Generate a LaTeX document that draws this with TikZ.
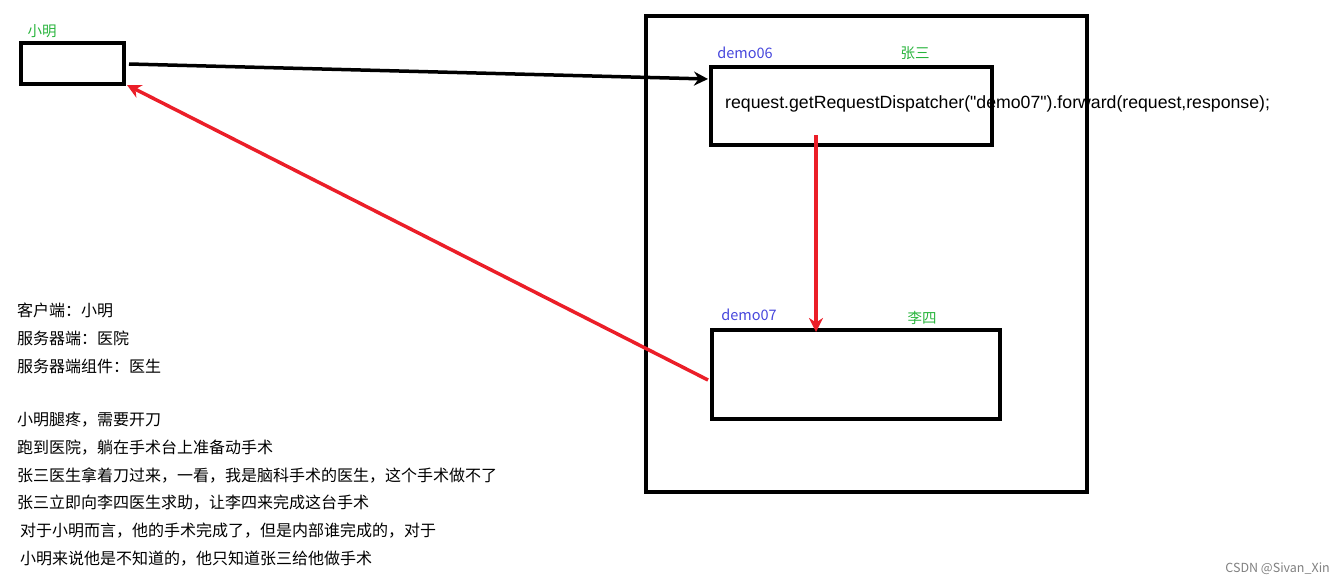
\documentclass[tikz,border=0pt]{standalone}
\usepackage{fontspec}
\setmainfont{Noto Sans CJK SC}
\newfontfamily\lat{Liberation Sans}
\usetikzlibrary{arrows.meta}
\definecolor{lblue}{RGB}{70,70,220}
\definecolor{lgreen}{RGB}{40,180,60}
\definecolor{lred}{RGB}{235,30,40}
\begin{document}
\begin{tikzpicture}[x=1pt,y=-1pt,
  bx/.style={draw=black,line width=3.5pt},
  blue/.style={text=lblue,font=\fontsize{14.5}{16}\selectfont},
  green/.style={text=lgreen,font=\fontsize{14.5}{16}\selectfont},
  txt/.style={anchor=west,font=\fontsize{16}{17}\selectfont,inner sep=0},
  arr/.style={line width=3.5pt,-{Stealth[length=14pt,width=14pt]}}]
\useasboundingbox (0,0) rectangle (1342,586);
\node[bx,minimum width=103pt,minimum height=41pt,inner sep=0] (xm) at (72.5,63.5) {};
\node[green] (xml) at (42,31) {小明};
\node[bx,minimum width=441pt,minimum height=476pt,inner sep=0] (big) at (866.5,254) {};
\node[bx,minimum width=281pt,minimum height=78pt,inner sep=0] (d6) at (851.5,106) {};
\node[blue] (d6l) at (745,53) {demo06};
\node[green] (zs) at (915,53) {张三};
\node[anchor=west,inner sep=0,font=\lat\fontsize{17.7}{20}\selectfont] (req) at (725,104) {request.getRequestDispatcher("demo07").forward(request,response);};
\node[bx,minimum width=288pt,minimum height=89pt,inner sep=0] (d7) at (856,374.5) {};
\node[blue] (d7l) at (749,315) {demo07};
\node[green] (ls) at (922,318) {李四};
\coordinate (a1s) at (129,64);
\coordinate (a1e) at (708,79);
\draw[arr,black] (a1s) -- (a1e);
\coordinate (a2s) at (816,135);
\coordinate (a2e) at (816,332);
\draw[arr,lred] (a2s) -- (a2e);
\coordinate (a3s) at (708,380);
\coordinate (a3e) at (127,85);
\draw[arr,lred] (a3s) -- (a3e);
\node[txt] (t1) at (17,310) {客户端：小明};
\node[txt] (t2) at (17,338) {服务器端：医院};
\node[txt] (t3) at (17,366) {服务器端组件：医生};
\node[txt] (t4) at (17,420) {小明腿疼，需要开刀};
\node[txt] (t5) at (17,448) {跑到医院，躺在手术台上准备动手术};
\node[txt] (t6) at (17,475) {张三医生拿着刀过来，一看，我是脑科手术的医生，这个手术做不了};
\node[txt] (t7) at (17,503) {张三立即向李四医生求助，让李四来完成这台手术};
\node[txt] (t8) at (20,531) {对于小明而言，他的手术完成了，但是内部谁完成的，对于};
\node[txt] (t9) at (20,559) {小明来说他是不知道的，他只知道张三给他做手术};
\node[anchor=east,inner sep=0,text=gray,font=\fontsize{12.5}{14}\selectfont] (wm) at (1330,569) {CSDN @Sivan\_Xin};
\end{tikzpicture}
\end{document}
